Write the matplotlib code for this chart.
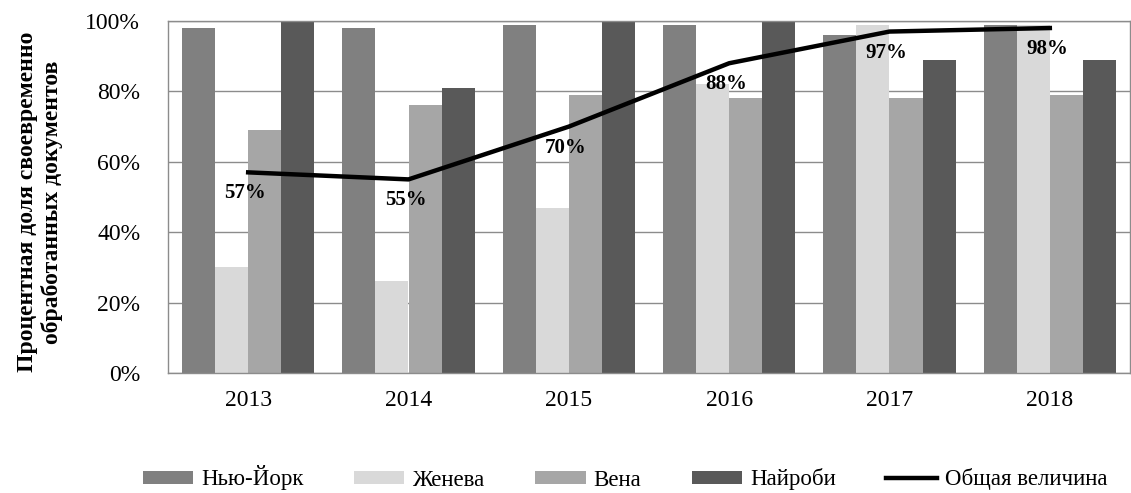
import matplotlib

matplotlib.use("Agg")
import matplotlib.pyplot as plt
import numpy as np

years = ["2013", "2014", "2015", "2016", "2017", "2018"]
series_names = ["Нью-Йорк", "Женева", "Вена", "Найроби"]
new_york = [98, 98, 99, 99, 96, 99]
geneva = [30, 26, 47, 82, 99, 99]
vienna = [69, 76, 79, 78, 78, 79]
nairobi = [100, 81, 100, 100, 89, 89]
overall = [57, 55, 70, 88, 97, 98]
overall_name = "Общая величина"
y_ticks = [0, 20, 40, 60, 80, 100]

BAR_COLORS = ["#808080", "#d9d9d9", "#a6a6a6", "#595959"]
GRID_COLOR = "#8c8c8c"

plt.rcParams["font.family"] = ["Liberation Serif", "DejaVu Serif"]

fig = plt.figure(figsize=(11.31, 4.93), dpi=100)
ax = fig.add_axes([168 / 1131, 120 / 493, 962 / 1131, 352 / 493])

x = np.arange(len(years))
bw = 0.206
for i, (vals, name) in enumerate(zip([new_york, geneva, vienna, nairobi], series_names)):
    ax.bar(x + (i - 1.5) * bw, vals, width=bw, color=BAR_COLORS[i],
           label=name, zorder=2)

ax.plot(x, overall, color="black", lw=3.2, label=overall_name, zorder=3,
        solid_joinstyle="round")
for xi, v in zip(x, overall):
    ax.annotate(f"{v}%", xy=(xi, v), xytext=(-3, -21), textcoords="offset pixels",
                ha="center", va="center", fontsize=15, fontweight="bold", zorder=4)

ax.set_xlim(-0.5, len(years) - 0.5)
ax.set_ylim(0, 100)
ax.set_yticks(y_ticks)
ax.set_yticklabels([f"{t}%" for t in y_ticks])
ax.set_xticks(x)
ax.set_xticklabels(years)
ax.tick_params(axis="both", length=0, labelsize=17)
ax.tick_params(axis="y", pad=20)
ax.tick_params(axis="x", pad=12)
ax.grid(axis="y", color=GRID_COLOR, lw=1.0, zorder=0)
ax.set_axisbelow(True)
for s in ax.spines.values():
    s.set_color(GRID_COLOR)
    s.set_linewidth(1.0)

fig.text(40 / 1131, 1 - 202 / 493,
         "Процентная доля своевременно\nобработанных документов",
         rotation=90, ha="center", va="center", fontsize=17, fontweight="bold",
         multialignment="center", linespacing=1.2)

handles, labels = ax.get_legend_handles_labels()
order = [1, 2, 3, 4, 0]
fig.legend([handles[i] for i in order], [labels[i] for i in order],
           loc="center", bbox_to_anchor=(625 / 1131, 1 - 478 / 493), ncol=5,
           frameon=False, fontsize=16.5, handlelength=2.2, handleheight=0.5,
           handletextpad=0.35, columnspacing=2.2)

fig.savefig("out.png", dpi=100)
